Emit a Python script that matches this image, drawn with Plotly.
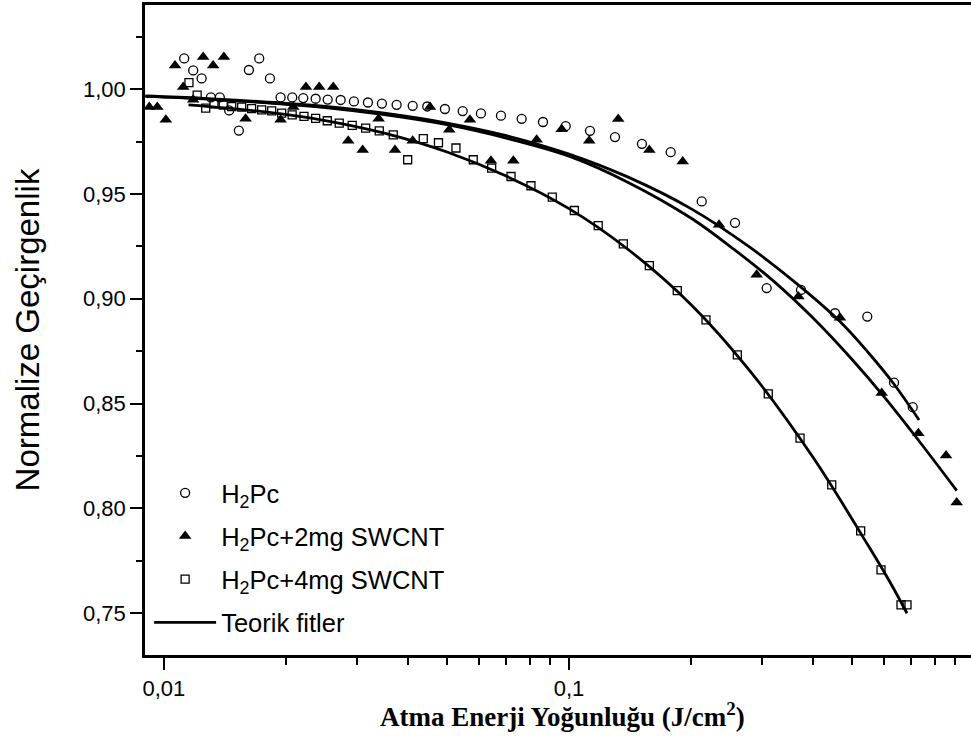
import plotly.graph_objects as go
import numpy as np

# measured points (energy density J/cm2, normalized transmittance)
h2pc_x = [0.01122, 0.01181, 0.01239, 0.01306, 0.01374, 0.01449, 0.01531, 0.01621, 0.01719, 0.01827,
          0.01941, 0.02074, 0.02208, 0.02369, 0.02537, 0.02731, 0.02945, 0.03189, 0.03453, 0.03754,
          0.04113, 0.04468, 0.04940, 0.05465, 0.06062, 0.06794, 0.07642, 0.08627, 0.09815, 0.1127,
          0.1299, 0.1514, 0.1783, 0.2127, 0.2570, 0.3077, 0.3740, 0.4538, 0.5451, 0.6347, 0.7058]
h2pc_y = [1.0146, 1.0089, 1.0051, 0.9960, 0.9960, 0.9898, 0.9802, 1.0091, 1.0146, 1.0051,
          0.9960, 0.9960, 0.9957, 0.9954, 0.9950, 0.9948, 0.9941, 0.9936, 0.9931, 0.9925,
          0.9920, 0.9917, 0.9905, 0.9895, 0.9884, 0.9873, 0.9858, 0.9843, 0.9823, 0.9801,
          0.9771, 0.9739, 0.9699, 0.9464, 0.9362, 0.9051, 0.9042, 0.8931, 0.8915, 0.8600, 0.8483]

swcnt2_x = [0.00920, 0.00963, 0.01011, 0.01065, 0.01116, 0.01181, 0.01250, 0.01323, 0.01406, 0.01591,
            0.01941, 0.02086, 0.02242, 0.02418, 0.02618, 0.02851, 0.03095, 0.03389, 0.03719, 0.04113,
            0.04538, 0.05063, 0.05695, 0.06417, 0.07288, 0.08321, 0.09594, 0.1122, 0.1323, 0.1579,
            0.1909, 0.2347, 0.2907, 0.3684, 0.4668, 0.5917, 0.7287, 0.8529, 0.9064]
swcnt2_y = [0.9914, 0.9914, 0.9854, 1.0113, 1.0010, 0.9949, 1.0153, 1.0113, 1.0153, 0.9858,
            0.9854, 0.9914, 1.0010, 1.0010, 1.0010, 0.9753, 0.9710, 0.9858, 0.9710, 0.9753,
            0.9914, 0.9806, 0.9854, 0.9658, 0.9658, 0.9758, 0.9809, 0.9753, 0.9857, 0.9710,
            0.9655, 0.9353, 0.9114, 0.9011, 0.8910, 0.8550, 0.8359, 0.8252, 0.8028]

swcnt4_x = [0.01153, 0.01208, 0.01268, 0.01329, 0.01401, 0.01470, 0.01556, 0.01646, 0.01743, 0.01845,
            0.01953, 0.02073, 0.02217, 0.02369, 0.02531, 0.02709, 0.02916, 0.03148, 0.03401, 0.03683,
            0.03997, 0.04368, 0.04762, 0.05260, 0.05803, 0.06444, 0.07193, 0.08056, 0.09095, 0.1031,
            0.1181, 0.1362, 0.1579, 0.1851, 0.2179, 0.2604, 0.3105, 0.3719, 0.4454, 0.5250,
            0.5894, 0.6603, 0.6832]
swcnt4_y = [1.0031, 0.9971, 0.9909, 0.9930, 0.9924, 0.9916, 0.9914, 0.9907, 0.9901, 0.9896,
            0.9885, 0.9877, 0.9870, 0.9860, 0.9849, 0.9838, 0.9827, 0.9814, 0.9801, 0.9782,
            0.9663, 0.9764, 0.9744, 0.9719, 0.9663, 0.9623, 0.9583, 0.9539, 0.9485, 0.9421,
            0.9349, 0.9262, 0.9158, 0.9039, 0.8899, 0.8732, 0.8546, 0.8335, 0.8112, 0.7893,
            0.7707, 0.7540, 0.7540]

# theoretical fits
fit1_x = [0.009, 0.0125, 0.018, 0.025, 0.035, 0.05, 0.07, 0.1, 0.14, 0.2, 0.28, 0.3726, 0.4668, 0.55, 0.6321, 0.7315]
fit1_y = [0.9967, 0.9956, 0.9938, 0.9917, 0.9885, 0.9838, 0.9778, 0.9690, 0.9580, 0.9430, 0.9245, 0.9058, 0.8891, 0.8740, 0.8597, 0.8422]
fit2_x = [0.009, 0.0125, 0.018, 0.025, 0.035, 0.05, 0.07, 0.1, 0.14, 0.2, 0.2565, 0.32, 0.4, 0.5, 0.6, 0.73, 0.9064]
fit2_y = [0.9965, 0.9953, 0.9934, 0.9912, 0.9878, 0.9830, 0.9766, 0.9680, 0.9555, 0.9385, 0.9233, 0.9084, 0.8909, 0.8710, 0.8532, 0.8324, 0.8085]
fit3_x = [0.0115, 0.018, 0.025, 0.035, 0.05, 0.07, 0.1, 0.14, 0.2, 0.28, 0.4, 0.55, 0.62, 0.6832]
fit3_y = [0.9925, 0.9890, 0.9850, 0.9790, 0.9700, 0.9585, 0.9430, 0.9235, 0.8973, 0.8655, 0.8245, 0.7818, 0.7649, 0.7500]

fig = go.Figure()

fig.add_trace(go.Scatter(x=h2pc_x, y=h2pc_y, mode='markers', name='H<sub>2</sub>Pc',
                         legendgroup='a',
                         marker=dict(symbol='circle-open', size=9, color='black', line=dict(width=1.3))))
fig.add_trace(go.Scatter(x=swcnt2_x, y=swcnt2_y, mode='markers', name='H<sub>2</sub>Pc+2mg SWCNT',
                         legendgroup='b',
                         marker=dict(symbol='triangle-up', size=11, color='black')))
fig.add_trace(go.Scatter(x=swcnt4_x, y=swcnt4_y, mode='markers', name='H<sub>2</sub>Pc+4mg SWCNT',
                         legendgroup='c',
                         marker=dict(symbol='square-open', size=8, color='black', line=dict(width=1.3))))

line_style = dict(color='black', width=2.8, shape='spline', smoothing=1.0)
fig.add_trace(go.Scatter(x=fit1_x, y=fit1_y, mode='lines', name='Teorik fitler',
                         legendgroup='d', line=line_style))
fig.add_trace(go.Scatter(x=fit2_x, y=fit2_y, mode='lines', showlegend=False,
                         legendgroup='d', line=line_style))
fig.add_trace(go.Scatter(x=fit3_x, y=fit3_y, mode='lines', showlegend=False,
                         legendgroup='d', line=line_style))

fig.update_layout(
    width=971, height=747,
    margin=dict(l=145, r=0, t=5, b=92),
    paper_bgcolor='white', plot_bgcolor='white',
    separators=',.',
    font=dict(family='Arial, Liberation Sans', color='black', size=22),
    legend=dict(x=0.005, y=0.285, xanchor='left', yanchor='top',
                font=dict(size=25.5, family='Arial, Liberation Sans'),
                itemwidth=62,
                bgcolor='rgba(0,0,0,0)', tracegroupgap=7, traceorder='grouped'),
    annotations=[dict(text='<b>Atma Enerji Yoğunluğu (J/cm<sup>2</sup>)</b>',
                      xref='paper', yref='paper', x=0.505, y=-0.092,
                      xanchor='center', yanchor='middle', showarrow=False,
                      font=dict(family='Times New Roman, Liberation Serif', size=27))],
)

fig.update_xaxes(
    type='log', range=[np.log10(0.00898), np.log10(0.983)],
    showline=True, linecolor='black', linewidth=2.5, mirror=True,
    showgrid=False, zeroline=False,
    ticks='outside', ticklen=12, tickwidth=2, tickcolor='black',
    tickvals=[0.01, 0.1, 1], ticktext=['0,01', '0,1', '1'],
    tickfont=dict(size=22),
    minor=dict(tickvals=[0.02, 0.03, 0.04, 0.05, 0.06, 0.07, 0.08, 0.09,
                         0.2, 0.3, 0.4, 0.5, 0.6, 0.7, 0.8, 0.9],
               ticks='outside', ticklen=7, tickwidth=2, tickcolor='black', showgrid=False),
)

fig.update_yaxes(
    range=[0.7301, 1.0401],
    showline=True, linecolor='black', linewidth=2.5, mirror=False,
    showgrid=False, zeroline=False,
    ticks='outside', ticklen=12, tickwidth=2, tickcolor='black',
    tickvals=[0.75, 0.80, 0.85, 0.90, 0.95, 1.00], tickformat='.2f',
    tickfont=dict(size=22),
    minor=dict(tickvals=[0.775, 0.825, 0.875, 0.925, 0.975, 1.025],
               ticks='outside', ticklen=6, tickwidth=2, tickcolor='black', showgrid=False),
    title=dict(text='Normalize Geçirgenlik', standoff=34, font=dict(size=33)),
)

# the page has a default body margin; remove it so the figure sits at the window corner
fig.write_html("out.html", config={'displayModeBar': False},
               post_script="document.body.style.margin='0';")
